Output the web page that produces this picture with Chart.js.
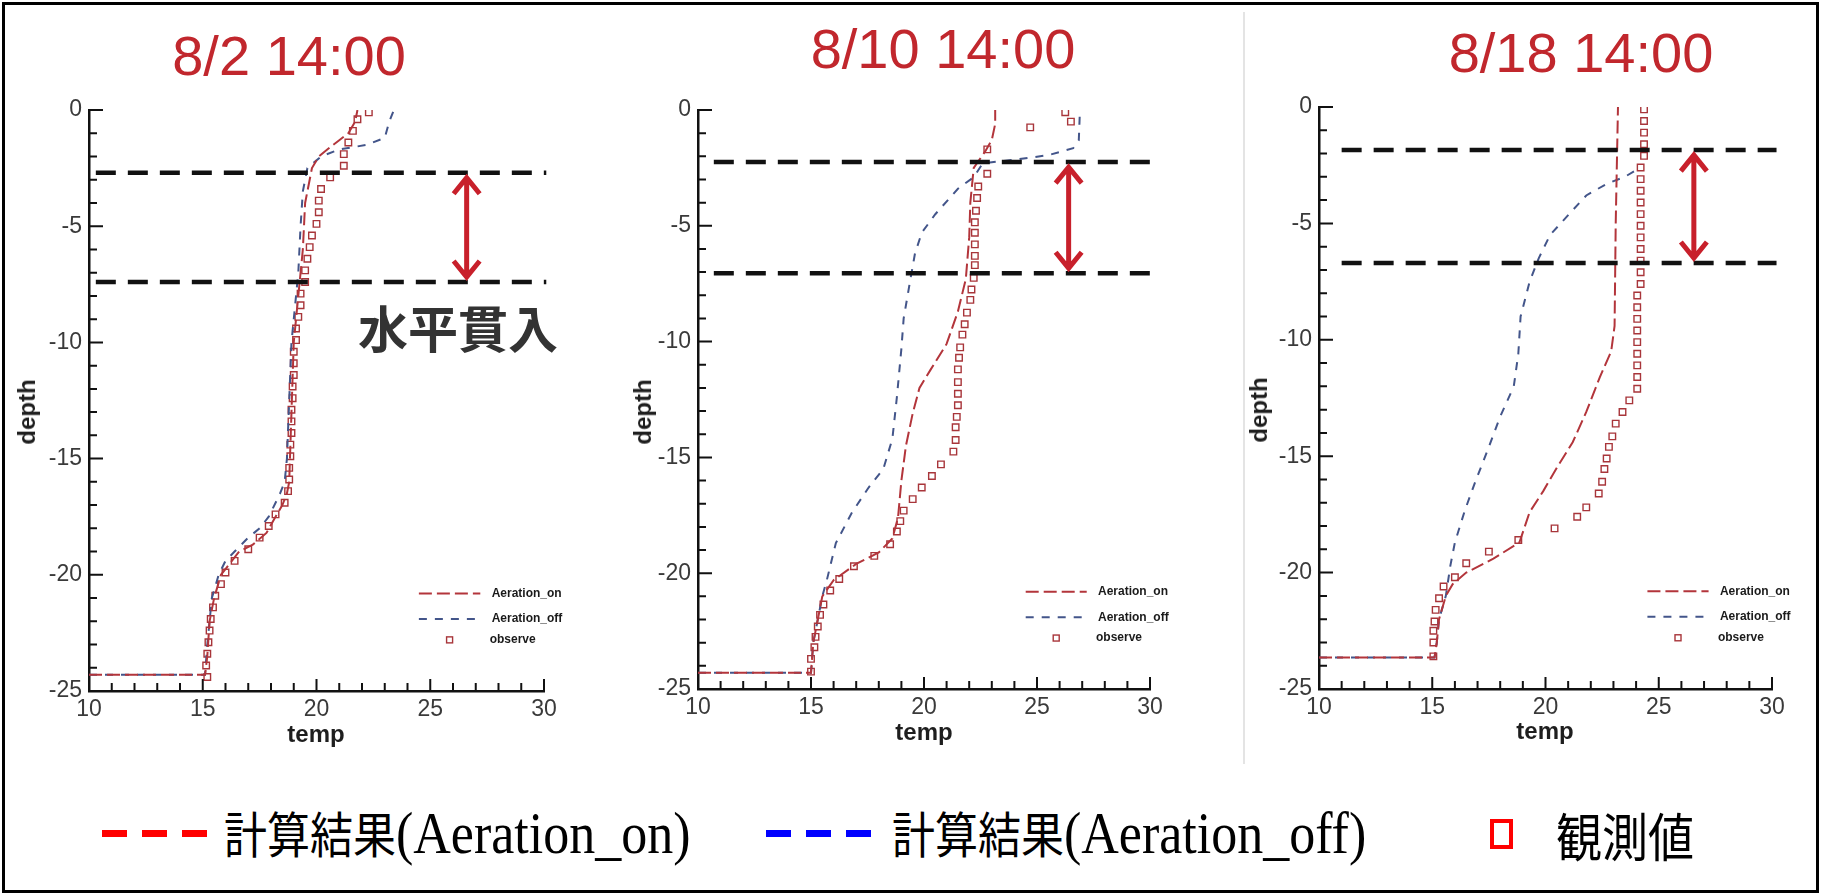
<!doctype html>
<html lang="ja">
<head>
<meta charset="UTF-8">
<title>Aeration temperature profiles</title>
<script src="https://cdn.jsdelivr.net/npm/chart.js"></script>
<style>
  body { margin: 0; width: 1821px; height: 895px; overflow: hidden; position: relative; background: #fff;
         font-family: 'Liberation Sans', Arial, sans-serif; }
  .frame { position: absolute; left: 2px; top: 2px; width: 1811px; height: 885px; border: 3px solid #000; }
  .sep { position: absolute; left: 1243px; top: 12px; width: 2px; height: 752px; background: #e4e4e4; }
  canvas { position: absolute; }
  .title { position: absolute; color: #c1272d; font-size: 56px; transform: translate(-50%, -50%); white-space: nowrap; }
  .axt { position: absolute; font-weight: bold; font-size: 24px; color: #1e1e1e; transform: translate(-50%, -50%); }
  .axt.v { transform: translate(-50%, -50%) rotate(-90deg); }
  .note { position: absolute; left: 458px; top: 326px; transform: translate(-50%, -50%); font-family: 'Noto Sans CJK JP', sans-serif;
          font-weight: bold; font-size: 50px; color: #333; white-space: nowrap; }
  .dash { position: absolute; top: 830px; width: 25px; height: 7px; }
  .red { background: #ff0000; }
  .blue { background: #0000ff; }
  .box { position: absolute; left: 1490px; top: 819px; width: 23px; height: 30px; border: 4px solid #ff0000; box-sizing: border-box; }
  .lg { position: absolute; top: 834px; transform: translateY(-50%) scaleY(1.14); transform-origin: left center;
        white-space: nowrap; line-height: 1; color: #000; }
  .lg .cj { font-family: 'Noto Sans CJK JP', sans-serif; font-size: 43px; }
  .lg .lt { font-family: 'Liberation Serif', serif; font-size: 52px; }
</style>
</head>
<body>
<div class="frame"></div>
<div class="sep"></div>

<canvas id="p1"></canvas>
<canvas id="p2"></canvas>
<canvas id="p3"></canvas>

<div class="title" style="left:289px; top:55px">8/2 14:00</div>
<div class="title" style="left:943px; top:48px">8/10 14:00</div>
<div class="title" style="left:1581px; top:52px">8/18 14:00</div>

<div class="axt v" style="left:27px; top:412px">depth</div>
<div class="axt v" style="left:643px; top:412px">depth</div>
<div class="axt v" style="left:1259px; top:410px">depth</div>
<div class="axt" style="left:316px; top:734px">temp</div>
<div class="axt" style="left:924px; top:732px">temp</div>
<div class="axt" style="left:1545px; top:731px">temp</div>

<div class="note">水平貫入</div>

<div class="dash red" style="left:102px"></div>
<div class="dash red" style="left:142px"></div>
<div class="dash red" style="left:182px"></div>
<div class="lg" style="left:224px"><span class="cj">計算結果</span><span class="lt">(Aeration_on)</span></div>
<div class="dash blue" style="left:766px"></div>
<div class="dash blue" style="left:806px"></div>
<div class="dash blue" style="left:846px"></div>
<div class="lg" style="left:892px"><span class="cj">計算結果</span><span class="lt">(Aeration_off)</span></div>
<div class="box"></div>
<div class="lg" style="left:1556px"><span class="cj" style="font-size:46px">観測値</span></div>

<script>
// ---- 8/2 14:00 ----
const on1T  = [10, 15.1, 15.2, 15.3, 15.5, 15.8, 16.2, 16.6, 17.2, 17.8, 18.2, 18.5, 18.7, 18.8, 18.9, 19.0, 19.2, 19.4, 19.5, 19.7, 19.8, 20.1, 20.6, 21.0, 21.4, 21.7, 21.8];
const on1D  = [-24.3, -24.3, -23.5, -22.0, -21.0, -20.0, -19.5, -19.0, -18.7, -18.2, -17.5, -17.0, -16.5, -16.0, -13.0, -10.0, -8.0, -6.0, -4.0, -3.0, -2.5, -2.0, -1.6, -1.3, -1.0, -0.5, 0];
const off1T = [10, 15.1, 15.2, 15.4, 15.7, 16.0, 16.4, 17.0, 17.5, 17.9, 18.4, 18.6, 18.7, 18.8, 18.9, 19.2, 19.3, 19.4, 19.6, 20.2, 21.0, 22.2, 23.0, 23.2, 23.4];
const off1D = [-24.3, -24.3, -23.0, -21.0, -20.0, -19.4, -19.0, -18.4, -18.0, -17.5, -16.5, -16.0, -15.0, -12.5, -10.0, -7.0, -5.0, -3.5, -2.5, -2.0, -1.7, -1.5, -1.2, -0.5, 0];
const obs1T = [22.3, 21.8, 21.6, 21.4, 21.2, 21.2, 20.6, 20.2, 20.1, 20.1, 20.0, 19.8, 19.7, 19.6, 19.5, 19.5, 19.3, 19.3, 19.2, 19.1,
               19.1, 19.0, 19.0, 19.0, 18.95, 18.95, 18.9, 18.9, 18.9, 18.85, 18.85, 18.8, 18.8, 18.75, 18.6, 18.2, 17.9, 17.5, 17.0, 16.4,
               16.0, 15.8, 15.55, 15.45, 15.35, 15.3, 15.25, 15.2, 15.15, 15.2];
const obs1D = [-0.1, -0.4, -0.9, -1.4, -1.9, -2.4, -2.9, -3.4, -3.9, -4.4, -4.9, -5.4, -5.9, -6.4, -6.9, -7.4, -7.9, -8.4, -8.9, -9.4,
               -9.9, -10.4, -10.9, -11.4, -11.9, -12.4, -12.9, -13.4, -13.9, -14.4, -14.9, -15.4, -15.9, -16.4, -16.9, -17.4, -17.9, -18.4, -18.9, -19.4,
               -19.9, -20.4, -20.9, -21.4, -21.9, -22.4, -22.9, -23.4, -23.9, -24.4];

// ---- 8/10 14:00 ----
const on2T  = [10, 15.0, 15.1, 15.3, 15.5, 16.0, 17.0, 18.0, 18.6, 18.85, 19.0, 19.2, 19.5, 19.8, 20.3, 21.0, 21.5, 21.85, 22.0, 22.05, 22.2, 22.7, 23.0, 23.15, 23.15];
const on2D  = [-24.3, -24.3, -23.0, -22.0, -21.0, -20.3, -19.6, -19.1, -18.5, -17.6, -16.0, -14.5, -13.1, -12.0, -11.2, -10.1, -8.7, -7.3, -5.5, -4.0, -2.5, -1.8, -1.3, -0.6, 0];
const off2T = [10, 15.0, 15.1, 15.3, 15.5, 15.7, 16.1, 16.8, 17.55, 18.2, 18.6, 18.8, 19.0, 19.1, 19.4, 19.6, 19.9, 20.5, 21.5, 22.2, 22.6, 24.0, 25.5, 26.6, 26.85, 26.9];
const off2D = [-24.3, -24.3, -23.0, -22.0, -21.0, -20.3, -18.7, -17.4, -16.3, -15.5, -14.2, -12.4, -10.3, -9.0, -7.3, -6.2, -5.3, -4.5, -3.4, -2.9, -2.3, -2.15, -1.95, -1.65, -1.3, 0];
const obs2T = [26.25, 26.5, 24.7, 22.8, 22.8, 22.4, 22.35, 22.3, 22.25, 22.25, 22.25, 22.25, 22.25, 22.2, 22.1, 22.05, 21.9, 21.8, 21.7, 21.6,
               21.55, 21.5, 21.5, 21.5, 21.5, 21.45, 21.4, 21.4, 21.3, 20.75, 20.35, 19.9, 19.5, 19.1, 18.95, 18.8, 18.5, 17.8, 16.9, 16.25,
               15.85, 15.55, 15.4, 15.3, 15.2, 15.15, 15.0, 15.0];
const obs2D = [-0.1, -0.5, -0.75, -1.7, -2.75, -3.3, -3.8, -4.35, -4.85, -5.3, -5.8, -6.3, -6.7, -7.25, -7.75, -8.2, -8.75, -9.25, -9.7, -10.25,
               -10.7, -11.2, -11.75, -12.25, -12.75, -13.25, -13.7, -14.25, -14.75, -15.3, -15.8, -16.3, -16.8, -17.3, -17.75, -18.2, -18.75, -19.25, -19.7, -20.25,
               -20.75, -21.35, -21.8, -22.3, -22.75, -23.2, -23.7, -24.25];

// ---- 8/18 14:00 ----
const on3T  = [10, 15.1, 15.2, 15.3, 15.6, 15.9, 16.5, 17.7, 18.85, 19.3, 19.9, 20.5, 21.2, 21.8, 22.4, 22.9, 23.05, 23.1, 23.2];
const on3D  = [-23.65, -23.65, -23.0, -22.0, -21.0, -20.5, -20.0, -19.4, -18.7, -17.4, -16.5, -15.5, -14.4, -13.1, -11.6, -10.5, -9.4, -5.0, 0];
const off3T = [10, 15.1, 15.2, 15.3, 15.6, 15.8, 16.0, 16.45, 16.9, 17.5, 18.0, 18.6, 18.8, 18.9, 19.3, 19.7, 20.2, 20.95, 21.8, 22.7, 23.5, 24.2];
const off3D = [-23.65, -23.65, -23.0, -22.0, -21.0, -19.7, -18.7, -17.3, -16.1, -14.6, -13.3, -12.0, -10.6, -9.0, -7.5, -6.5, -5.5, -4.7, -3.8, -3.3, -3.0, -2.6];
const obs3T = [24.35, 24.35, 24.35, 24.35, 24.35, 24.2, 24.2, 24.2, 24.2, 24.2, 24.2, 24.2, 24.2, 24.2, 24.2, 24.2, 24.05, 24.05, 24.05, 24.05,
               24.05, 24.05, 24.05, 24.05, 24.05, 23.7, 23.4, 23.1, 22.95, 22.8, 22.7, 22.6, 22.5, 22.35, 21.8, 21.4, 20.4, 18.8, 17.5, 16.5,
               16.0, 15.5, 15.3, 15.15, 15.1, 15.05, 15.05, 15.05];
const obs3D = [-0.1, -0.6, -1.1, -1.6, -2.1, -2.6, -3.1, -3.6, -4.1, -4.6, -5.1, -5.6, -6.1, -6.6, -7.1, -7.6, -8.1, -8.6, -9.1, -9.6,
               -10.1, -10.6, -11.1, -11.6, -12.1, -12.6, -13.1, -13.6, -14.15, -14.6, -15.1, -15.55, -16.1, -16.6, -17.2, -17.6, -18.1, -18.6, -19.1, -19.6,
               -20.2, -20.6, -21.1, -21.6, -22.1, -22.5, -23.0, -23.6];

// injection band (upper / lower depth), its horizontal extent, and arrow temperature
const band1 = [-2.7, -7.4],   bandX1 = [10.3, 30.1], arrowT1 = 26.6;
const band2 = [-2.25, -7.05], bandX2 = [10.7, 30.0], arrowT2 = 26.4;
const band3 = [-1.85, -6.7],  bandX3 = [11.0, 30.2], arrowT3 = 26.55;

const xTicks = [10, 15, 20, 25, 30];
const yTicks = [0, -5, -10, -15, -20, -25];

Chart.defaults.font.family = "'Liberation Sans', Arial, sans-serif";

const zip = (xs, ys) => xs.map((v, i) => ({ x: v, y: ys[i] }));

const ON_COLOR = '#b3353b', OFF_COLOR = '#43558a', OBS_COLOR = '#a8353a';

const innerTicks = {
  id: 'innerTicks',
  afterDatasetsDraw(chart) {
    const { ctx, chartArea: a, scales: { x, y } } = chart;
    ctx.save();
    ctx.strokeStyle = '#111';
    ctx.lineWidth = 2;
    ctx.beginPath();
    for (let v = x.min; v <= x.max; v++) {
      const px = x.getPixelForValue(v), len = v % 5 === 0 ? 12 : 8;
      ctx.moveTo(px, a.bottom); ctx.lineTo(px, a.bottom - len);
    }
    for (let v = y.min; v <= y.max; v++) {
      const py = y.getPixelForValue(v), len = v % 5 === 0 ? 14 : 8;
      ctx.moveTo(a.left, py); ctx.lineTo(a.left + len, py);
    }
    ctx.stroke();
    ctx.restore();
  }
};

const bandArrow = {
  id: 'bandArrow',
  afterDatasetsDraw(chart, args, o) {
    const { ctx, scales: { x, y } } = chart;
    const px = x.getPixelForValue(o.t);
    const y1 = y.getPixelForValue(o.top) + 5, y2 = y.getPixelForValue(o.bottom) - 5;
    ctx.save();
    ctx.strokeStyle = '#c8202b';
    ctx.lineWidth = 5;
    ctx.lineJoin = 'miter';
    ctx.beginPath();
    ctx.moveTo(px, y1 + 2); ctx.lineTo(px, y2 - 2);
    ctx.moveTo(px - 13, y1 + 16); ctx.lineTo(px, y1); ctx.lineTo(px + 13, y1 + 16);
    ctx.moveTo(px - 13, y2 - 16); ctx.lineTo(px, y2); ctx.lineTo(px + 13, y2 - 16);
    ctx.stroke();
    ctx.restore();
  }
};

const miniLegend = {
  id: 'miniLegend',
  afterDatasetsDraw(chart) {
    const { ctx, scales: { x, y } } = chart;
    const x0 = x.getPixelForValue(24.5), x1 = x.getPixelForValue(27.2), xt = x.getPixelForValue(27.7);
    const rows = [y.getPixelForValue(-20.8), y.getPixelForValue(-21.9), y.getPixelForValue(-22.8)];
    const ds = chart.data.datasets;
    ctx.save();
    [0, 1].forEach(i => {
      ctx.strokeStyle = ds[i + 2].borderColor;
      ctx.lineWidth = 2;
      ctx.setLineDash(ds[i + 2].borderDash);
      ctx.beginPath(); ctx.moveTo(x0, rows[i]); ctx.lineTo(x1, rows[i]); ctx.stroke();
    });
    ctx.setLineDash([]);
    ctx.strokeStyle = OBS_COLOR; ctx.lineWidth = 1.4;
    const sx = x.getPixelForValue(25.85);
    ctx.strokeRect(sx - 3, rows[2] - 3, 6, 6);
    ctx.fillStyle = '#1a1a1a';
    ctx.font = "bold 12px 'Liberation Sans', Arial, sans-serif";
    ctx.textBaseline = 'middle';
    ['Aeration_on', 'Aeration_off', 'observe'].forEach((t, i) => ctx.fillText(t, xt + (i === 2 ? -2 : 0), rows[i]));
    ctx.restore();
  }
};

function makePanel(id, area, on, off, obs, band, bandX, arrowT) {
  const cv = document.getElementById(id);
  cv.width = area.r - area.l + 110;
  cv.height = area.b - area.t + 75;
  cv.style.left = (area.l - 70) + 'px';
  cv.style.top = (area.t - 30) + 'px';
  const tickFont = { size: 23 };
  return new Chart(cv, {
    type: 'scatter',
    data: {
      datasets: [
        { data: zip(bandX, [band[0], band[0]]), showLine: true, borderColor: '#111', borderWidth: 4.5,
          borderDash: [20, 12], pointRadius: 0, clip: false },
        { data: zip(bandX, [band[1], band[1]]), showLine: true, borderColor: '#111', borderWidth: 4.5,
          borderDash: [20, 12], pointRadius: 0, clip: false },
        { label: 'Aeration_on', data: on, showLine: true, borderColor: ON_COLOR, borderWidth: 2,
          borderDash: [13, 5], pointRadius: 0 },
        { label: 'Aeration_off', data: off, showLine: true, borderColor: OFF_COLOR, borderWidth: 2,
          borderDash: [8, 8], pointRadius: 0 },
        { label: 'observe', data: obs, showLine: false, pointStyle: 'rect', pointRadius: 4.6,
          borderColor: OBS_COLOR, borderWidth: 1.4, backgroundColor: 'rgba(255,255,255,0)' }
      ]
    },
    options: {
      responsive: false,
      animation: false,
      events: [],
      layout: { padding: { left: 10, top: 30, right: 40, bottom: 0 } },
      plugins: {
        legend: { display: false },
        tooltip: { enabled: false },
        bandArrow: { t: arrowT, top: band[0], bottom: band[1] }
      },
      scales: {
        x: {
          type: 'linear', min: 10, max: 30,
          afterBuildTicks: s => { s.ticks = xTicks.map(v => ({ value: v })); },
          ticks: { padding: 5, color: '#3a3a3a', font: tickFont, maxRotation: 0 },
          grid: { display: false, drawTicks: false },
          border: { color: '#111', width: 2.5 },
          afterFit: s => { s.height = 45; }
        },
        y: {
          type: 'linear', min: -25, max: 0,
          afterBuildTicks: s => { s.ticks = yTicks.map(v => ({ value: v })); },
          ticks: { padding: 7, color: '#3a3a3a', font: tickFont },
          grid: { display: false, drawTicks: false },
          border: { color: '#111', width: 2.5 },
          afterFit: s => { s.width = 60; }
        }
      }
    },
    plugins: [innerTicks, bandArrow, miniLegend]
  });
}

makePanel('p1', { l: 89, r: 544, t: 110, b: 691 }, zip(on1T, on1D), zip(off1T, off1D), zip(obs1T, obs1D), band1, bandX1, arrowT1);
makePanel('p2', { l: 698, r: 1150, t: 110, b: 689 }, zip(on2T, on2D), zip(off2T, off2D), zip(obs2T, obs2D), band2, bandX2, arrowT2);
makePanel('p3', { l: 1319, r: 1772, t: 107, b: 689 }, zip(on3T, on3D), zip(off3T, off3D), zip(obs3T, obs3D), band3, bandX3, arrowT3);
</script>
</body>
</html>
